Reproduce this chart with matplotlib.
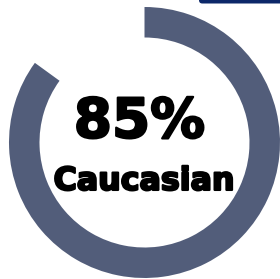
import matplotlib
matplotlib.use("Agg")
import matplotlib.pyplot as plt
import matplotlib.patheffects as pe
from matplotlib.patches import FancyBboxPatch

labels = ["Caucasian", "Other"]
values = [85, 15]
ring_color = "#525d7a"
headline = "85%"
caption = "Caucasian"

W, H = 280, 279
fig = plt.figure(figsize=(W / 100, H / 100), dpi=100)
fig.patch.set_facecolor("white")

# decorative navy bar at top-right corner
bar = FancyBboxPatch((199 / W, (H - 3.5) / H), 0.4, 0.1,
                     boxstyle="round,pad=0,rounding_size=0.012",
                     transform=fig.transFigure, facecolor="#0c2869",
                     edgecolor="none", clip_on=False)
fig.patches.append(bar)

cx, cy, r = 144.5, 142.5, 135.5
ax = fig.add_axes([(cx - r) / W, (H - cy - r) / H, 2 * r / W, 2 * r / H])
ax.pie(values, colors=[ring_color, "none"], startangle=90, counterclock=False,
       radius=1.0, wedgeprops=dict(width=30.5 / r, edgecolor="none"))
ax.set_xlim(-1, 1)
ax.set_ylim(-1, 1)
ax.set_aspect("auto")
ax.axis("off")

thick = [pe.withStroke(linewidth=1.6, foreground="black")]
ax.text(-0.037, 0.036, headline, ha="center", va="baseline",
        fontsize=39.5, fontweight="bold", family="DejaVu Sans", color="black",
        path_effects=thick)
ax.text(-0.004, -0.35, caption, ha="center", va="baseline",
        fontsize=22.8, fontweight="bold", family="DejaVu Sans", color="black",
        path_effects=thick)

fig.savefig("out.png", dpi=100, facecolor="white")
